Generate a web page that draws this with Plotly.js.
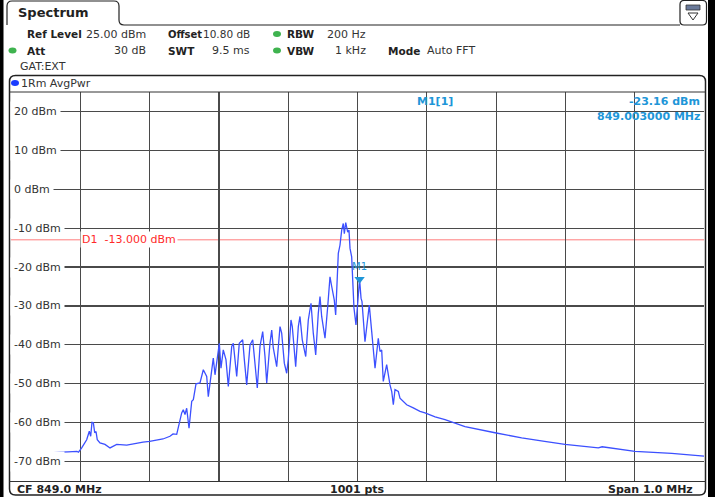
<!DOCTYPE html>
<html>
<head>
<meta charset="utf-8">
<script src="https://cdn.plot.ly/plotly-3.0.1.min.js"></script>
<style>
  html, body { margin: 0; padding: 0; background: #fff; }
  #chart { width: 715px; height: 497px; }
</style>
</head>
<body>
<div id="chart"></div>
<script>
// ---------- data ----------
const freqMHz = [
  848.5000, 848.5202, 848.5346, 848.5462, 848.5592, 848.5707, 848.5823, 848.5952, 848.5974, 848.6020,
  848.6092, 848.6130, 848.6150, 848.6169, 848.6188, 848.6208, 848.6227, 848.6245, 848.6284, 848.6356,
  848.6429, 848.6525, 848.6670, 848.6790, 848.6905, 848.7000, 848.7102, 848.7193, 848.7294, 848.7338,
  848.7391, 848.7439, 848.7463, 848.7486, 848.7511, 848.7535, 848.7569, 848.7608, 848.7631, 848.7670,
  848.7727, 848.7775, 848.7824, 848.7847, 848.7896, 848.7919, 848.7944, 848.7977, 848.8006, 848.8030,
  848.8063, 848.8102, 848.8136, 848.8185, 848.8208, 848.8232, 848.8257, 848.8294, 848.8343, 848.8367,
  848.8401, 848.8449, 848.8488, 848.8511, 848.8554, 848.8593, 848.8632, 848.8665, 848.8690, 848.8737,
  848.8762, 848.8785, 848.8834, 848.8882, 848.8906, 848.8944, 848.8978, 848.9001, 848.9040, 848.9059,
  848.9088, 848.9108, 848.9146, 848.9170, 848.9203, 848.9253, 848.9290, 848.9329, 848.9362, 848.9397,
  848.9434, 848.9459, 848.9483, 848.9531, 848.9570, 848.9603, 848.9628, 848.9665, 848.9685, 848.9723,
  848.9747, 848.9772, 848.9795, 848.9810, 848.9830, 848.9859, 848.9877, 848.9892, 848.9916, 848.9931,
  848.9949, 848.9978, 849.0030, 849.0051, 849.0065, 849.0108, 849.0156, 849.0170, 849.0205, 849.0228,
  849.0253, 849.0300, 849.0325, 849.0349, 849.0372, 849.0421, 849.0444, 849.0469, 849.0494, 849.0517,
  849.0541, 849.0589, 849.0613, 849.0710, 849.0805, 849.0902, 849.0974, 849.1120, 849.1263, 849.1400,
  849.1551, 849.1984, 849.2369, 849.2700, 849.2994, 849.3475, 849.3530, 849.4004, 849.4534, 849.5000
];
const levelDbm = [
  -68.2, -68.0, -68.1, -67.9, -67.8, -67.6, -67.5, -67.4, -67.6, -66.5,
  -64.4, -62.2, -63.5, -59.9, -60.0, -62.6, -62.3, -64.4, -65.2, -65.6,
  -66.5, -65.6, -65.8, -65.3, -65.0, -64.8, -64.5, -64.2, -63.5, -62.9,
  -63.0, -59.2, -57.5, -56.7, -57.9, -56.3, -61.4, -54.5, -54.1, -50.0,
  -49.8, -46.4, -48.1, -53.3, -45.6, -43.4, -47.7, -43.0, -39.6, -46.0,
  -41.3, -43.8, -50.7, -40.4, -39.6, -43.8, -48.1, -39.6, -38.7, -43.8,
  -50.3, -40.0, -38.7, -43.0, -51.1, -40.4, -36.6, -43.0, -49.8, -39.6,
  -36.2, -40.8, -45.6, -35.3, -37.0, -44.7, -47.3, -43.8, -33.6, -35.3,
  -41.3, -45.6, -35.3, -32.7, -38.7, -43.0, -33.6, -29.3, -37.0, -42.6,
  -31.9, -27.6, -32.7, -38.3, -30.2, -22.5, -25.0, -28.5, -32.3, -16.5,
  -14.4, -10.5, -8.8, -11.4, -8.6, -11.0, -10.5, -15.2, -17.4, -23.8,
  -30.5, -34.9, -23.16, -28.0, -28.9, -39.2, -30.6, -29.8, -36.6, -40.8,
  -46.0, -38.3, -41.7, -41.3, -49.4, -45.1, -47.7, -50.3, -52.0, -55.4,
  -51.5, -52.0, -53.7, -55.4, -56.2, -57.1, -57.5, -58.5, -59.2, -60.0,
  -61.0, -62.6, -63.9, -64.8, -65.6, -66.5, -66.2, -67.4, -67.9, -68.6
];
const yTickVals = [20, 10, 0, -10, -20, -30, -40, -50, -60, -70];
const yTickText = ['20 dBm', '10 dBm', '0 dBm', '-10 dBm', '-20 dBm', '-30 dBm', '-40 dBm', '-50 dBm', '-60 dBm', '-70 dBm'];
const markerFreq = [849.003];
const markerLevel = [-23.16];
const markerName = ['M1'];
const displayLineLevel = -13;
const displayLineText = 'D1\u00a0\u00a0-13.000 dBm';
const refLevel = 25;
const xStart = 848.5, xStop = 849.5;

// ---------- layout helpers (pixel -> paper) ----------
const W = 715, H = 497, ML = 11, MR = 11, MT = 92, MB = 16;
const PW = W - ML - MR, PH = H - MT - MB;
const px = X => (X - ML) / PW;
const py = Y => (H - MB - Y) / PH;

const TXT = '#333333', BLUEM = '#1e96d8', FONT = 'DejaVu Sans, Verdana, sans-serif';

function roundRectPath(x0, y0, x1, y1, r) {
  const rx = r / PW, ry = r / PH;
  const X0 = px(x0), X1 = px(x1), Y0 = py(y0), Y1 = py(y1);
  return `M ${X0} ${Y1 + ry} L ${X0} ${Y0 - ry} Q ${X0} ${Y0} ${X0 + rx} ${Y0} ` +
         `L ${X1 - rx} ${Y0} Q ${X1} ${Y0} ${X1} ${Y0 - ry} L ${X1} ${Y1 + ry} ` +
         `Q ${X1} ${Y1} ${X1 - rx} ${Y1} L ${X0 + rx} ${Y1} Q ${X0} ${Y1} ${X0} ${Y1 + ry} Z`;
}

const ann = [];
function txt(X, Y, text, opts) {
  opts = opts || {};
  ann.push(Object.assign({
    xref: 'paper', yref: 'paper', x: px(X), y: py(Y), text: text,
    showarrow: false, xanchor: 'left', yanchor: 'middle',
    font: { family: FONT, size: opts.size || 11, color: opts.color || TXT,
            weight: opts.bold ? 'bold' : 'normal' }
  }, opts.extra || {}));
}

// header
txt(16, 12.5, 'Spectrum', { bold: true, size: 13, color: '#222' });
txt(25, 34, 'Ref Level', { bold: true, size: 10.5, color: '#222' });
txt(148, 34, '25.00 dBm', { extra: { xanchor: 'right' } });
txt(166, 34, 'Offset', { bold: true, size: 10, color: '#222' });
txt(252, 34, '10.80 dB', { size: 10.5, extra: { xanchor: 'right' } });
txt(285, 34, 'RBW', { bold: true, size: 10.5, color: '#222' });
txt(325, 34, '200 Hz');
txt(25, 50.5, 'Att', { bold: true, size: 10.5, color: '#222' });
txt(148, 50.5, '30 dB', { extra: { xanchor: 'right' } });
txt(166, 50.5, 'SWT', { bold: true, size: 10.5, color: '#222' });
txt(252, 50.5, '9.5 ms', { extra: { xanchor: 'right' } });
txt(285, 50.5, 'VBW', { bold: true, size: 10.5, color: '#222' });
txt(333, 50.5, '1 kHz');
txt(386, 50.5, 'Mode', { bold: true, size: 10.5, color: '#222' });
txt(425, 50.5, 'Auto FFT');
txt(18, 66.5, 'GAT:EXT');
txt(19, 83, '1Rm AvgPwr');

// y labels (inside the diagram, on white)
yTickVals.forEach((v, i) => {
  ann.push({
    xref: 'paper', yref: 'y', x: px(10), y: v, text: yTickText[i], showarrow: false,
    xanchor: 'left', yanchor: 'middle', bgcolor: '#ffffff', borderpad: 3,
    font: { family: FONT, size: 11, color: TXT }
  });
});

// display line label
ann.push({
  xref: 'paper', yref: 'y', x: px(80), y: displayLineLevel, text: displayLineText, showarrow: false,
  xanchor: 'left', yanchor: 'middle', bgcolor: '#ffffff', borderpad: 1,
  font: { family: FONT, size: 11, color: '#ff2a2a' }
});

// marker info
txt(415, 101, markerName[0] + '[1]', { bold: true, color: BLUEM });
txt(702, 101, markerLevel[0].toFixed(2) + ' dBm', { bold: true, color: BLUEM, extra: { xanchor: 'right' } });
txt(702, 116, markerFreq[0].toFixed(6) + ' MHz', { bold: true, color: BLUEM, extra: { xanchor: 'right' } });

// footer
txt(15, 489, 'CF 849.0 MHz', { bold: true, color: '#222' });
txt(357.5, 489, '1001 pts', { bold: true, color: '#222', extra: { xanchor: 'center' } });
txt(695, 489, 'Span 1.0 MHz', { bold: true, color: '#222', extra: { xanchor: 'right' } });

const shp = [];
const P = (o) => Object.assign({ xref: 'paper', yref: 'paper' }, o);
// white box behind marker info (covers grid)
shp.push(P({ type: 'rect', x0: px(413), x1: px(704), y0: py(123), y1: py(92), fillcolor: '#ffffff', line: { width: 0 }, layer: 'between' }));
// display line
shp.push({ type: 'line', xref: 'paper', yref: 'y', x0: 0, x1: 1, y0: displayLineLevel, y1: displayLineLevel,
           line: { color: '#ff7c7c', width: 1 }, layer: 'between' });
// diagram frame
shp.push(P({ type: 'path', path: roundRectPath(9.5, 75.5, 705.5, 495, 6), line: { color: '#222', width: 1.5 } }));
shp.push(P({ type: 'line', x0: px(9.5), x1: px(705.5), y0: py(92), y1: py(92), line: { color: '#333', width: 1 } }));
shp.push(P({ type: 'line', x0: px(9.5), x1: px(705.5), y0: py(481.5), y1: py(481.5), line: { color: '#333', width: 1.2 } }));
// tab + header line
const tabPath = `M ${px(7)} ${py(25)} L ${px(7)} ${py(6)} Q ${px(7)} ${py(1)} ${px(12)} ${py(1)} ` +
  `L ${px(114)} ${py(1)} Q ${px(119)} ${py(1)} ${px(119)} ${py(6)} L ${px(119)} ${py(20)} ` +
  `Q ${px(119)} ${py(25)} ${px(124)} ${py(25)} L ${px(680)} ${py(25)}`;
shp.push(P({ type: 'path', path: tabPath, line: { color: '#222', width: 1.2 } }));
// icon top right
shp.push(P({ type: 'path', path: roundRectPath(680, 0.5, 706.5, 25, 4), line: { color: '#222', width: 1.2 } }));
shp.push(P({ type: 'rect', x0: px(686), x1: px(700), y0: py(10), y1: py(5), fillcolor: '#6a7a9a', line: { color: '#333', width: 0.8 } }));
shp.push(P({ type: 'path', path: `M ${px(688)} ${py(13)} L ${px(698)} ${py(13)} L ${px(693)} ${py(20)} Z`, line: { color: '#333', width: 1 } }));
// side black bars
shp.push(P({ type: 'rect', x0: px(0), x1: px(3.5), y0: py(497), y1: py(0), fillcolor: '#000', line: { width: 0 } }));
shp.push(P({ type: 'rect', x0: px(708), x1: px(715), y0: py(497), y1: py(0), fillcolor: '#000', line: { width: 0 } }));
// status dots
[[277, 34, '#3fb34f'], [12.5, 50.5, '#3fb34f'], [277, 50.5, '#3fb34f'], [15, 83, '#1a3cff']].forEach(d => {
  shp.push(P({ type: 'circle', x0: px(d[0] - 4), x1: px(d[0] + 4), y0: py(d[1] + 3), y1: py(d[1] - 3),
               fillcolor: d[2], line: { width: 0 } }));
});

const traces = [
  {
    x: freqMHz, y: levelDbm, type: 'scatter', mode: 'lines',
    line: { color: 'rgb(60,80,255)', width: 1.3 }, hoverinfo: 'skip'
  },
  {
    x: markerFreq, y: markerLevel, type: 'scatter', mode: 'markers+text',
    text: markerName, textposition: 'top center',
    textfont: { family: FONT, size: 10, color: BLUEM },
    marker: { symbol: 'triangle-down', size: 9, color: BLUEM }, hoverinfo: 'skip'
  }
];

const layout = {
  width: W, height: H,
  margin: { l: ML, r: MR, t: MT, b: MB, pad: 0 },
  paper_bgcolor: '#ffffff', plot_bgcolor: '#ffffff',
  showlegend: false,
  xaxis: {
    range: [xStart, xStop], tick0: xStart, dtick: 0.1, showticklabels: false,
    showgrid: true, gridcolor: '#4a4a4a', gridwidth: 1.2, zeroline: false, showline: false, ticks: ''
  },
  yaxis: {
    range: [refLevel - 100, refLevel], tickvals: yTickVals, showticklabels: false,
    showgrid: true, gridcolor: '#4a4a4a', gridwidth: 1.2, zeroline: false, showline: false, ticks: ''
  },
  annotations: ann,
  shapes: shp
};

Plotly.newPlot('chart', traces, layout, { displayModeBar: false, staticPlot: true });
</script>
</body>
</html>
